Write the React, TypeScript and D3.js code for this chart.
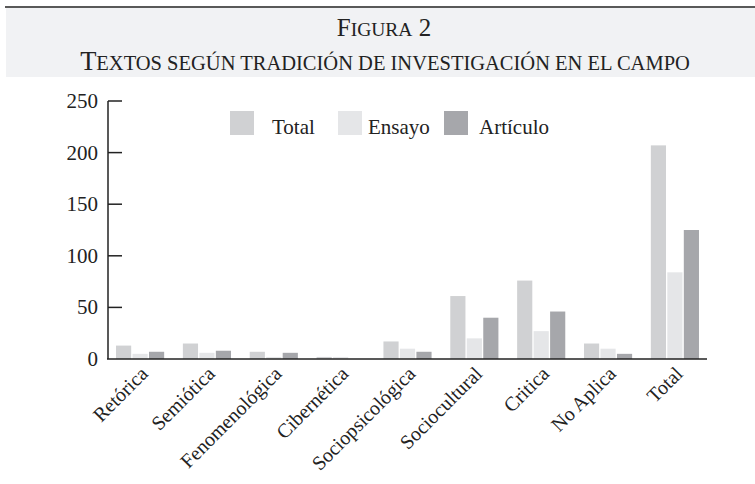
import React from "react";
import * as d3 from "d3";

const categories = [
  "Retórica",
  "Semiótica",
  "Fenomenológica",
  "Cibernética",
  "Sociopsicológica",
  "Sociocultural",
  "Critica",
  "No Aplica",
  "Total",
];
const series = ["Total", "Ensayo", "Artículo"];
const totalValues = [13, 15, 7, 2, 17, 61, 76, 15, 207];
const ensayoValues = [5, 6, 2, 2, 10, 20, 27, 10, 84];
const articuloValues = [7, 8, 6, 0, 7, 40, 46, 5, 125];
const yTicks = [0, 50, 100, 150, 200, 250];

const colors = ["#d0d1d3", "#e5e6e8", "#a6a7ab"];
const font = "'Liberation Serif', 'Times New Roman', serif";

const width = 755;
const height = 484;

const App = () => {
  const values = [totalValues, ensayoValues, articuloValues];

  const x = d3
    .scaleBand()
    .domain(categories)
    .range([108, 707])
    .paddingInner(0.28)
    .paddingOuter(0.12);

  const xs = d3
    .scaleBand()
    .domain(series)
    .range([0, x.bandwidth()])
    .paddingInner(0.08);

  const y = d3.scaleLinear().domain([0, 250]).range([359, 101]);

  return (
    <svg
      width={width}
      height={height}
      style={{ position: "absolute", left: 0, top: 0 }}
      fontFamily={font}
    >
      <rect x={0} y={0} width={width} height={height} fill="#fff" />
      {/* header */}
      <rect x={6} y={8} width={width - 6} height={69} fill="#f1f2f4" />
      <line x1={5} x2={width} y1={7} y2={7} stroke="#222" strokeWidth={1.6} />
      <text x={384} y={36} textAnchor="middle" fill="#222" fontSize={25}>
        F<tspan fontSize={19.5}>IGURA</tspan> 2
      </text>
      <text x={385} y={70} textAnchor="middle" fill="#222" fontSize={26.5}>
        T<tspan fontSize={20.5}>EXTOS SEGÚN TRADICIÓN DE INVESTIGACIÓN EN EL CAMPO</tspan>
      </text>

      {/* bars */}
      {categories.map((c, i) => (
        <g key={c} transform={`translate(${x(c)},0)`}>
          {series.map((s, j) => (
            <rect
              key={s}
              x={xs(s)}
              y={y(values[j][i])}
              width={xs.bandwidth()}
              height={y(0) - y(values[j][i])}
              fill={colors[j]}
            />
          ))}
        </g>
      ))}

      {/* axes */}
      <line x1={108} x2={108} y1={y(250)} y2={y(0)} stroke="#222" strokeWidth={1.5} />
      <line x1={107} x2={707} y1={y(0)} y2={y(0)} stroke="#222" strokeWidth={1.5} />
      {yTicks.map((t) => (
        <g key={t}>
          {t > 0 && (
            <line x1={108} x2={122} y1={y(t)} y2={y(t)} stroke="#222" strokeWidth={1.5} />
          )}
          <text
            x={98}
            y={y(t) + 7}
            textAnchor="end"
            fontSize={21}
            fill="#222"
          >
            {t}
          </text>
        </g>
      ))}
      {categories.map((c) => {
        const cx = (x(c) as number) + x.bandwidth() / 2 + 9;
        const cy = y(0) + 16;
        return (
          <text
            key={c}
            transform={`translate(${cx},${cy}) rotate(-45)`}
            textAnchor="end"
            fontSize={20}
            fill="#222"
          >
            {c}
          </text>
        );
      })}

      {/* legend */}
      {series.map((s, j) => {
        const lx = [230, 338, 444][j];
        const tx = [272, 368, 479][j];
        return (
          <g key={s}>
            <rect x={lx} y={111} width={24} height={24} fill={colors[j]} />
            <text x={tx} y={134} fontSize={21} fill="#222">
              {s}
            </text>
          </g>
        );
      })}
    </svg>
  );
};

export default App;
